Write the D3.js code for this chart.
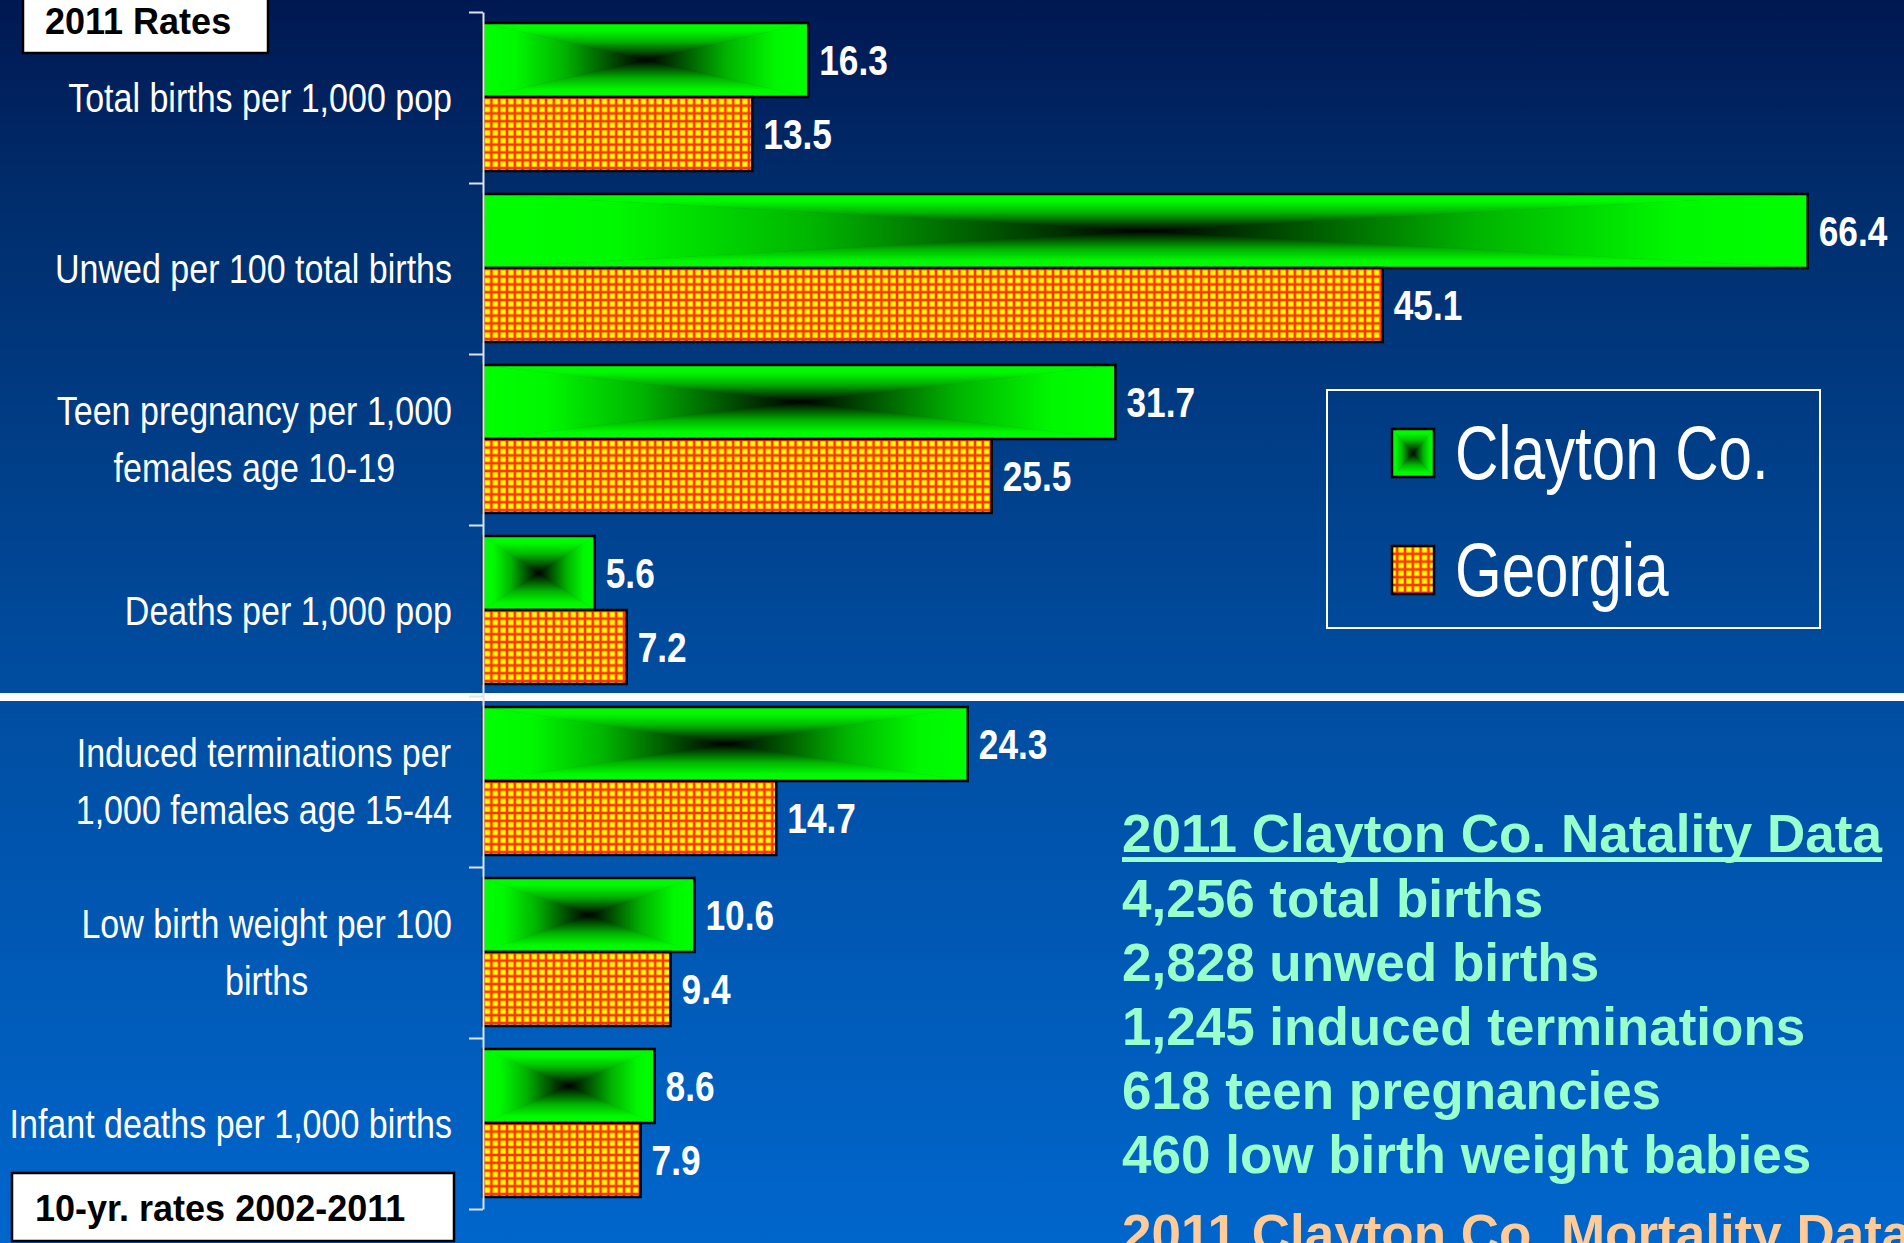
<!DOCTYPE html>
<html>
<head>
<meta charset="utf-8">
<script src="https://cdn.jsdelivr.net/npm/d3@7"></script>
<style>
  body { margin: 0; overflow: hidden; background: #0066cc; }
  svg { display: block; }
  text { font-family: "Liberation Sans", Arial, sans-serif; }
</style>
</head>
<body>
<svg width="1904" height="1243"></svg>
<script>
var categories = [
  ["Total births per 1,000 pop"],
  ["Unwed per 100 total births"],
  ["Teen pregnancy per 1,000", "females age 10-19"],
  ["Deaths per 1,000 pop"],
  ["Induced terminations per", "1,000 females age 15-44"],
  ["Low birth weight per 100", "births"],
  ["Infant deaths per 1,000 births"]
];
var series = ["Clayton Co.", "Georgia"];
var clayton = [16.3, 66.4, 31.7, 5.6, 24.3, 10.6, 8.6];
var georgia = [13.5, 45.1, 25.5, 7.2, 14.7, 9.4, 7.9];
var natalityTitle = "2011 Clayton Co. Natality Data";
var natality = ["4,256 total births", "2,828 unwed births", "1,245 induced terminations",
                "618 teen pregnancies", "460 low birth weight babies"];
var mortalityTitle = "2011 Clayton Co. Mortality Data";

var svg = d3.select("svg");
var W = 1904, H = 1243;
var NARROW = 0.83; // no Arial Narrow installed, squeeze Liberation Sans instead
var defs = svg.append("defs");

// background
var bg = defs.append("linearGradient").attr("id", "bg")
  .attr("x1", 0).attr("y1", 0).attr("x2", 0).attr("y2", 1);
[[0, "#001852"], [0.16, "#002d6c"], [0.52, "#004b9d"], [1, "#0066cc"]].forEach(function (s) {
  bg.append("stop").attr("offset", s[0]).attr("stop-color", s[1]);
});
svg.append("rect").attr("width", W).attr("height", H).attr("fill", "url(#bg)");

// "from center" gradient, built from 4 triangles
var glow = [[0, "#00ff00"], [0.2, "#00f800"], [0.5, "#00b400"], [0.78, "#005000"], [1, "#000000"]];
function grad(id, x2, y2, rev) {
  var g = defs.append("linearGradient").attr("id", id)
    .attr("x1", rev ? x2 : 0).attr("y1", rev ? y2 : 0)
    .attr("x2", rev ? 0 : x2).attr("y2", rev ? 0 : y2);
  glow.forEach(function (s) { g.append("stop").attr("offset", s[0]).attr("stop-color", s[1]); });
}
grad("gTop", 0, 1, false);
grad("gBot", 0, 1, true);
grad("gLeft", 1, 0, false);
grad("gRight", 1, 0, true);

// yellow / red grid pattern
var cell = 7.8;
var pat = defs.append("pattern").attr("id", "grid")
  .attr("patternUnits", "userSpaceOnUse").attr("width", cell).attr("height", cell);
pat.append("rect").attr("width", cell).attr("height", cell).attr("fill", "#ff3300");
pat.append("rect").attr("x", 1.1).attr("y", 1.1).attr("width", 5.6).attr("height", 5.6).attr("fill", "#ffa000");
pat.append("rect").attr("x", 1.6).attr("y", 1.6).attr("width", 4.6).attr("height", 4.6).attr("fill", "#ffff00");

function greenBox(sel, x0, y0, w, h) {
  var x1 = x0 + w, y1 = y0 + h, cx = x0 + w / 2, cy = y0 + h / 2;
  var tris = [
    [[x0, y0], [x1, y0], [cx, cy], "gTop"],
    [[x0, y1], [x1, y1], [cx, cy], "gBot"],
    [[x0, y0], [x0, y1], [cx, cy], "gLeft"],
    [[x1, y0], [x1, y1], [cx, cy], "gRight"]
  ];
  tris.forEach(function (t) {
    sel.append("polygon")
      .attr("points", t.slice(0, 3).map(function (p) { return p.join(","); }).join(" "))
      .attr("fill", "url(#" + t[3] + ")")
      .attr("stroke", "url(#" + t[3] + ")").attr("stroke-width", 0.6);
  });
  sel.append("rect").attr("x", x0).attr("y", y0).attr("width", w).attr("height", h)
    .attr("fill", "none").attr("stroke", "#000").attr("stroke-width", 2.5);
}

// narrow text: placed with a translate, squeezed horizontally
function narrowText(sel, tx, ty, size, sx) {
  return sel.append("text")
    .attr("transform", "translate(" + tx + "," + ty + ") scale(" + (sx || NARROW) + ",1)")
    .attr("font-size", size);
}

// scales
var x = d3.scaleLinear().domain([0, 70]).range([483, 483 + 70 * 19.95]);
var y = d3.scaleBand().domain(d3.range(categories.length)).range([12, 1209]);
var ys = d3.scaleBand().domain(series).range([11, y.bandwidth() - 12]);
var yEdge = d3.scaleLinear().domain([0, categories.length]).range(y.range());

// separator between the 2011 rates and 10-yr rates
svg.append("rect").attr("x", 0).attr("y", y(4) - 3).attr("width", W).attr("height", 8).attr("fill", "#fff");

// bars
var rows = categories.map(function (c, i) {
  return { i: i, values: [{ s: series[0], v: clayton[i] }, { s: series[1], v: georgia[i] }] };
});
var groups = svg.selectAll("g.row").data(rows).enter().append("g")
  .attr("class", "row")
  .attr("transform", function (d) { return "translate(0," + y(d.i) + ")"; });

groups.each(function (d) {
  var g = d3.select(this);
  d.values.forEach(function (b) {
    var bx = x(0), by = ys(b.s), bw = x(b.v) - x(0), bh = ys.bandwidth();
    if (b.s === series[0]) {
      greenBox(g.append("g"), bx, by, bw, bh);
    } else {
      g.append("rect").attr("x", bx).attr("y", by).attr("width", bw).attr("height", bh)
        .attr("fill", "url(#grid)").attr("stroke", "#000").attr("stroke-width", 2.5);
    }
    narrowText(g, x(b.v) + 11, by + bh / 2, 42, 0.84)
      .attr("dy", "0.35em").attr("fill", "#fff").attr("font-weight", "bold")
      .text(d3.format(".1f")(b.v));
  });
});

// axis with ticks at band edges
var axis = svg.append("g").attr("transform", "translate(" + x(0) + ",0)")
  .call(d3.axisLeft(yEdge).ticks(categories.length).tickSize(14).tickSizeOuter(0).tickFormat(""));
axis.selectAll("path, line").attr("stroke", "#dde4f0").attr("stroke-width", 2);

// category labels: block right-aligned at 452, lines centred within it
categories.forEach(function (lines, i) {
  var cy = y(i) + y.bandwidth() / 2;
  var top = cy + 14.5 - (lines.length - 1) * 57 / 2;
  var t = narrowText(svg, 0, 0, 41).attr("fill", "#fff").attr("text-anchor", "middle");
  lines.forEach(function (l, k) {
    t.append("tspan").attr("x", 0).attr("y", top + k * 57).text(l);
  });
  var maxW = 0;
  t.selectAll("tspan").each(function () { maxW = Math.max(maxW, this.getComputedTextLength()); });
  t.attr("transform", "translate(" + (452 - maxW * NARROW / 2) + ",0) scale(" + NARROW + ",1)");
});

// corner boxes
function tagBox(bx, by, bw, bh, tx, ty, label) {
  svg.append("rect").attr("x", bx).attr("y", by).attr("width", bw).attr("height", bh)
    .attr("fill", "#fff").attr("stroke", "#000").attr("stroke-width", 2.5);
  svg.append("text").attr("x", tx).attr("y", ty)
    .attr("font-size", 36).attr("font-weight", "bold").attr("fill", "#000").text(label);
}
tagBox(23, -10, 245, 63, 45, 34, "2011 Rates");
tagBox(12, 1173, 442, 68, 35, 1221, "10-yr. rates 2002-2011");

// legend
var lg = svg.append("g").attr("transform", "translate(1327,390)");
lg.append("rect").attr("width", 493).attr("height", 238)
  .attr("fill", "none").attr("stroke", "#fff").attr("stroke-width", 2);
series.forEach(function (s, i) {
  var sy = 39 + i * 117;
  if (i === 0) greenBox(lg.append("g"), 65, sy, 42, 48);
  else lg.append("rect").attr("x", 65).attr("y", sy).attr("width", 42).attr("height", 48)
    .attr("fill", "url(#grid)").attr("stroke", "#000").attr("stroke-width", 2.5);
  narrowText(lg, 128, sy + 50, 76, 0.79).attr("fill", "#fff").text(s);
});

// natality block
var nat = svg.append("g").attr("font-weight", "bold").attr("font-size", 53);
var title = nat.append("text").attr("x", 1122).attr("y", 852).attr("fill", "#99ffcc").text(natalityTitle);
nat.append("rect").attr("x", 1122).attr("y", 857)
  .attr("width", title.node().getComputedTextLength()).attr("height", 5).attr("fill", "#99ffcc");
nat.selectAll("text.nl").data(natality).enter().append("text").attr("class", "nl")
  .attr("x", 1122).attr("y", function (d, i) { return 917 + i * 64; })
  .attr("fill", "#99ffcc").text(function (d) { return d; });
nat.append("text").attr("x", 1122).attr("y", 1252).attr("fill", "#ffcc99").text(mortalityTitle);
</script>
</body>
</html>
